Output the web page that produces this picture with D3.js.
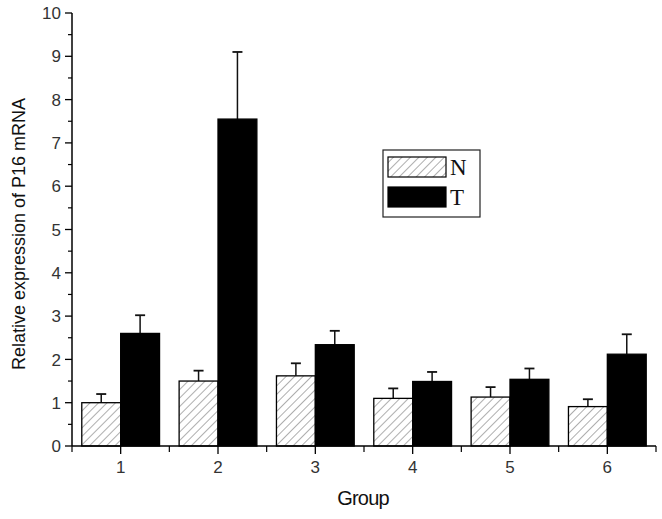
<!DOCTYPE html>
<meta charset="utf-8">
<style>
body, html { margin: 0; padding: 0; background: #fff; }
</style>
<div id="chart"></div>
<script src="https://d3js.org/d3.v7.min.js"></script>
<script>
const groups = ["1", "2", "3", "4", "5", "6"];
const series = ["N", "T"];
const nValues = [1.00, 1.50, 1.62, 1.10, 1.13, 0.91];
const nErrors = [0.20, 0.24, 0.29, 0.23, 0.23, 0.17];
const tValues = [2.60, 7.55, 2.34, 1.49, 1.54, 2.12];
const tErrors = [0.42, 1.55, 0.32, 0.22, 0.25, 0.46];
const yTicks = [0, 1, 2, 3, 4, 5, 6, 7, 8, 9, 10];

const width = 662, height = 519;
const margin = {left: 72, right: 6, top: 13, bottom: 73};
const sans = "Arial, 'Liberation Sans', sans-serif";
const serif = "'Times New Roman', 'Liberation Serif', serif";

const svg = d3.select("#chart").append("svg")
  .attr("width", width).attr("height", height)
  .style("font-family", sans);

const defs = svg.append("defs");
const pat = defs.append("pattern")
  .attr("id", "hatch")
  .attr("patternUnits", "userSpaceOnUse")
  .attr("width", 6).attr("height", 6)
  .attr("patternTransform", "rotate(45)");
pat.append("rect").attr("width", 6).attr("height", 6).attr("fill", "#fff");
pat.append("line").attr("x1", 0).attr("y1", 0).attr("x2", 0).attr("y2", 6)
  .attr("stroke", "#777").attr("stroke-width", 1.2);

const x = d3.scaleLinear().domain([0.5, 6.5]).range([margin.left, width - margin.right]);
const y = d3.scaleLinear().domain([0, 10]).range([height - margin.bottom, margin.top]);
const band = 97.2 * 0.4;

const rows = groups.map((g, i) => ({
  g: +g,
  vals: [
    {s: "N", v: nValues[i], e: nErrors[i]},
    {s: "T", v: tValues[i], e: tErrors[i]}
  ]
}));

const bars = svg.append("g");
rows.forEach(r => {
  r.vals.forEach((d, j) => {
    const x0 = x(r.g) + (j - 1) * band;
    const cx = x0 + band / 2;
    // error bar (upper only)
    bars.append("line")
      .attr("x1", cx).attr("x2", cx)
      .attr("y1", y(d.v)).attr("y2", y(d.v + d.e))
      .attr("stroke", "#111").attr("stroke-width", 1.5);
    bars.append("line")
      .attr("x1", cx - 5).attr("x2", cx + 5)
      .attr("y1", y(d.v + d.e)).attr("y2", y(d.v + d.e))
      .attr("stroke", "#111").attr("stroke-width", 1.8);
    bars.append("rect")
      .attr("x", x0).attr("width", band)
      .attr("y", y(d.v)).attr("height", y(0) - y(d.v))
      .attr("fill", d.s === "N" ? "url(#hatch)" : "#000")
      .attr("stroke", "#000").attr("stroke-width", 1.3);
  });
});

// y axis
const yAxis = svg.append("g").attr("transform", `translate(${margin.left},0)`);
yAxis.append("line").attr("x1", 0).attr("x2", 0)
  .attr("y1", y(0)).attr("y2", y(10)).attr("stroke", "#000").attr("stroke-width", 1.5);
yAxis.selectAll(".major").data(yTicks).enter().append("line")
  .attr("x1", -7).attr("x2", 0).attr("y1", d => y(d)).attr("y2", d => y(d))
  .attr("stroke", "#000").attr("stroke-width", 1.3);
yAxis.selectAll(".minor").data(yTicks.slice(0, -1)).enter().append("line")
  .attr("x1", -4).attr("x2", 0).attr("y1", d => y(d + 0.5)).attr("y2", d => y(d + 0.5))
  .attr("stroke", "#000").attr("stroke-width", 1.2);
yAxis.selectAll("text").data(yTicks).enter().append("text")
  .attr("x", -11).attr("y", d => y(d)).attr("dy", "0.36em")
  .attr("text-anchor", "end").attr("font-size", 17).attr("fill", "#333")
  .text(d => d);

// x axis
const xAxis = svg.append("g").attr("transform", `translate(0,${y(0)})`);
xAxis.append("line").attr("x1", x(0.5)).attr("x2", x(6.5))
  .attr("stroke", "#000").attr("stroke-width", 1.5);
xAxis.selectAll(".major").data(groups).enter().append("line")
  .attr("x1", d => x(+d)).attr("x2", d => x(+d)).attr("y1", 0).attr("y2", 8)
  .attr("stroke", "#000").attr("stroke-width", 1.3);
xAxis.selectAll(".minor").data(d3.range(0.5, 7, 1)).enter().append("line")
  .attr("x1", d => x(d)).attr("x2", d => x(d)).attr("y1", 0).attr("y2", 6)
  .attr("stroke", "#000").attr("stroke-width", 1.2);
xAxis.selectAll("text").data(groups).enter().append("text")
  .attr("x", d => x(+d)).attr("y", 27)
  .attr("text-anchor", "middle").attr("font-size", 17).attr("fill", "#333")
  .text(d => d);

// axis titles
svg.append("text").attr("x", 363).attr("y", 505)
  .attr("text-anchor", "middle").attr("font-size", 20).attr("fill", "#111")
  .attr("letter-spacing", -0.8)
  .text("Group");
svg.append("text")
  .attr("transform", "translate(25,234) rotate(-90)")
  .attr("text-anchor", "middle").attr("font-size", 19).attr("fill", "#111")
  .attr("textLength", 272).attr("lengthAdjust", "spacingAndGlyphs")
  .text("Relative expression of P16 mRNA");

// legend
const lg = svg.append("g").attr("transform", "translate(383,150)");
lg.append("rect").attr("width", 97).attr("height", 67)
  .attr("fill", "#fff").attr("stroke", "#222").attr("stroke-width", 1.2);
series.forEach((s, i) => {
  lg.append("rect").attr("x", 5).attr("y", 7 + i * 30).attr("width", 58).attr("height", 20)
    .attr("fill", s === "N" ? "url(#hatch)" : "#000")
    .attr("stroke", "#000").attr("stroke-width", 1.2);
  lg.append("text").attr("x", 67).attr("y", 25 + i * 30)
    .style("font-family", serif)
    .attr("font-size", 23).attr("fill", "#111")
    .text(s);
});
</script>
